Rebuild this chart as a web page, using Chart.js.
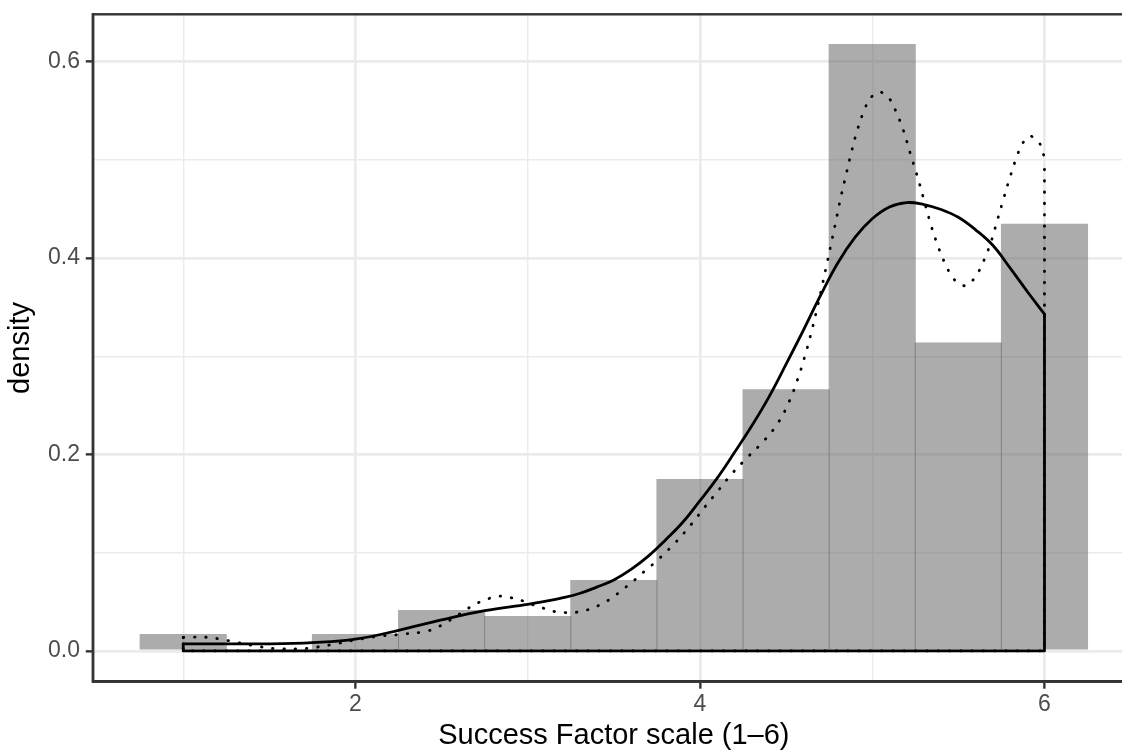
<!DOCTYPE html>
<html>
<head>
<meta charset="utf-8">
<script src="https://cdn.jsdelivr.net/npm/chart.js@4"></script>
<style>
  html, body { margin: 0; padding: 0; background: #ffffff; overflow: hidden; }
  #wrap { width: 1122px; height: 752px; overflow: hidden; position: relative; }
  #c { position: absolute; left: 0; top: 0; }
</style>
</head>
<body>
<div id="wrap"><canvas id="c" width="1140" height="752"></canvas></div>
<script>
// Histogram bins (centres) and densities
const binCenters = [1.0, 1.5, 2.0, 2.5, 3.0, 3.5, 4.0, 4.5, 5.0, 5.5, 6.0];
const binDensity = [0.0173, 0, 0.0173, 0.0417, 0.0356, 0.0722, 0.175, 0.2665, 0.618, 0.314, 0.435];

// Solid density curve
const solidX = [1.0, 1.25, 1.5, 1.75, 2.0, 2.25, 2.5, 2.75, 3.0, 3.1, 3.2, 3.3, 3.4, 3.5, 3.6, 3.7, 3.8, 3.9, 4.0, 4.1, 4.2, 4.3, 4.4, 4.5, 4.6, 4.7, 4.8, 4.9, 5.0, 5.1, 5.2, 5.3, 5.4, 5.5, 5.6, 5.7, 5.8, 5.9, 6.0];
const solidY = [0.0073, 0.0073, 0.0072, 0.0085, 0.012, 0.021, 0.0316, 0.041, 0.0475, 0.0505, 0.054, 0.0585, 0.065, 0.0723, 0.083, 0.0965, 0.113, 0.131, 0.153, 0.176, 0.202, 0.229, 0.2585, 0.292, 0.3265, 0.362, 0.395, 0.421, 0.440, 0.452, 0.4565, 0.4545, 0.4495, 0.4415, 0.4288, 0.413, 0.390, 0.366, 0.343];

// Dotted density curve
const dottedX = [1.0, 1.14, 1.21, 1.27, 1.41, 1.54, 1.68, 1.74, 1.88, 2.01, 2.14, 2.28, 2.41, 2.474, 2.536, 2.59, 2.648, 2.706, 2.768, 2.834, 2.9, 2.968, 3.03, 3.093, 3.159, 3.225, 3.295, 3.358, 3.42, 3.48, 3.534, 3.587, 3.639, 3.69, 3.742, 3.85, 3.95, 4.03, 4.1, 4.183, 4.278, 4.374, 4.456, 4.518, 4.566, 4.607, 4.643, 4.675, 4.704, 4.733, 4.762, 4.789, 4.816, 4.847, 4.878, 4.913, 4.957, 4.99, 5.044, 5.096, 5.131, 5.181, 5.22, 5.259, 5.296, 5.332, 5.373, 5.421, 5.454, 5.493, 5.525, 5.557, 5.603, 5.634, 5.685, 5.724, 5.762, 5.801, 5.843, 5.87, 5.915, 5.967, 5.992, 6.0];
const dottedY = [0.0139, 0.0139, 0.0122, 0.0102, 0.0054, 0.0023, 0.0023, 0.003, 0.007, 0.0115, 0.015, 0.0172, 0.020, 0.024, 0.030, 0.036, 0.0427, 0.0485, 0.053, 0.0557, 0.0543, 0.0512, 0.047, 0.0434, 0.040, 0.039, 0.0397, 0.0424, 0.047, 0.053, 0.060, 0.0675, 0.075, 0.083, 0.0906, 0.109, 0.129, 0.147, 0.162, 0.180, 0.1975, 0.2145, 0.233, 0.254, 0.276, 0.299, 0.322, 0.345, 0.3676, 0.391, 0.415, 0.4375, 0.4606, 0.484, 0.507, 0.530, 0.552, 0.563, 0.569, 0.563, 0.552, 0.530, 0.507, 0.485, 0.462, 0.439, 0.4165, 0.395, 0.384, 0.375, 0.372, 0.373, 0.382, 0.392, 0.414, 0.437, 0.46, 0.483, 0.505, 0.516, 0.524, 0.518, 0.507, 0.500];

// Axis ticks
const xMajorTicks = [2, 4, 6];
const xMinorTicks = [1, 3, 5];
const yMajorTicks = [0, 0.2, 0.4, 0.6];
const yMinorTicks = [0.1, 0.3, 0.5];
const xTitle = 'Success Factor scale (1\u20136)';
const yTitle = 'density';

const toPts = (xs, ys) => xs.map((x, i) => ({ x: x, y: ys[i] }));
const outline = (xs, ys) => [
  { x: xs[0], y: ys[0] }, { x: xs[0], y: 0 },
  { x: xs[xs.length - 1], y: 0 }, { x: xs[xs.length - 1], y: ys[ys.length - 1] }
];
const isMajor = (v, arr) => arr.some(m => Math.abs(m - v) < 1e-9);
const tickList = (maj, min) => maj.concat(min).sort((a, b) => a - b).map(v => ({ value: v }));

Chart.defaults.font.family = "'Liberation Sans', Arial, Helvetica, sans-serif";

const panelBorder = {
  id: 'panelBorder',
  afterDatasetsDraw(chart) {
    const a = chart.chartArea, ctx = chart.ctx;
    ctx.save();
    ctx.strokeStyle = '#333333';
    ctx.lineWidth = 2.4;
    ctx.strokeRect(a.left, a.top, a.right - a.left, a.bottom - a.top);
    ctx.restore();
  }
};

const solidStyle = { borderColor: '#000000', borderWidth: 2.8, pointRadius: 0, fill: false, borderJoinStyle: 'round', borderCapStyle: 'round' };
const dottedStyle = { borderColor: '#000000', borderWidth: 2.8, pointRadius: 0, fill: false, borderDash: [0.5, 10.8], borderCapStyle: 'round' };

new Chart(document.getElementById('c'), {
  type: 'bar',
  data: {
    datasets: [
      Object.assign({ type: 'line', data: toPts(solidX, solidY), tension: 0.4, order: 1 }, solidStyle),
      Object.assign({ type: 'line', data: outline(solidX, solidY), tension: 0, order: 1 }, solidStyle),
      Object.assign({ type: 'line', data: toPts(dottedX, dottedY), tension: 0.4, order: 2 }, dottedStyle),
      Object.assign({ type: 'line', data: outline(dottedX, dottedY), tension: 0, order: 2 }, dottedStyle),
      {
        type: 'bar',
        data: toPts(binCenters, binDensity),
        backgroundColor: 'rgba(89,89,89,0.5)',
        borderWidth: 0,
        barPercentage: 1.012,
        categoryPercentage: 1.0,
        order: 5
      }
    ]
  },
  options: {
    responsive: false,
    animation: false,
    devicePixelRatio: 1,
    layout: { padding: { top: 14.3, left: 0, right: 5.1, bottom: 0 } },
    plugins: { legend: { display: false }, tooltip: { enabled: false } },
    scales: {
      x: {
        type: 'linear',
        offset: false,
        min: 0.475,
        max: 6.525,
        afterBuildTicks: s => { s.ticks = tickList(xMajorTicks, xMinorTicks); },
        afterFit: s => { s.height = 70.3; s.paddingLeft = 0; s.paddingRight = 0; },
        ticks: {
          autoSkip: false,
          maxRotation: 0,
          padding: 2,
          color: '#4D4D4D',
          font: { size: 23 },
          callback: v => isMajor(v, xMajorTicks) ? String(v) : ''
        },
        grid: {
          color: '#EBEBEB',
          lineWidth: c => (c.tick && isMajor(c.tick.value, xMajorTicks)) ? 2.7 : 1.4,
          tickColor: c => (c.tick && isMajor(c.tick.value, xMajorTicks)) ? '#333333' : 'rgba(0,0,0,0)',
          tickWidth: 2.4,
          tickLength: 7,
          offset: false
        },
        border: { display: true, color: '#333333', width: 2.4 },
        title: {
          display: true,
          text: xTitle,
          color: '#000000',
          font: { size: 29, lineHeight: 1.0 },
          padding: { top: 0, bottom: 1.5 }
        }
      },
      y: {
        type: 'linear',
        min: -0.0313,
        max: 0.6482,
        afterBuildTicks: s => { s.ticks = tickList(yMajorTicks, yMinorTicks); },
        afterFit: s => { s.width = 92.8; s.paddingTop = 0; s.paddingBottom = 0; },
        ticks: {
          autoSkip: false,
          padding: 5.8,
          color: '#4D4D4D',
          font: { size: 23 },
          callback: v => isMajor(v, yMajorTicks) ? v.toFixed(1) : ''
        },
        grid: {
          color: '#EBEBEB',
          lineWidth: c => (c.tick && isMajor(c.tick.value, yMajorTicks)) ? 2.7 : 1.4,
          tickColor: c => (c.tick && isMajor(c.tick.value, yMajorTicks)) ? '#333333' : 'rgba(0,0,0,0)',
          tickWidth: 2.4,
          tickLength: 7
        },
        border: { display: true, color: '#333333', width: 2.4 },
        title: {
          display: true,
          text: yTitle,
          color: '#000000',
          font: { size: 29, lineHeight: 1.0 },
          padding: { top: 6.5, bottom: 0 }
        }
      }
    }
  },
  plugins: [panelBorder]
});
</script>
</body>
</html>
